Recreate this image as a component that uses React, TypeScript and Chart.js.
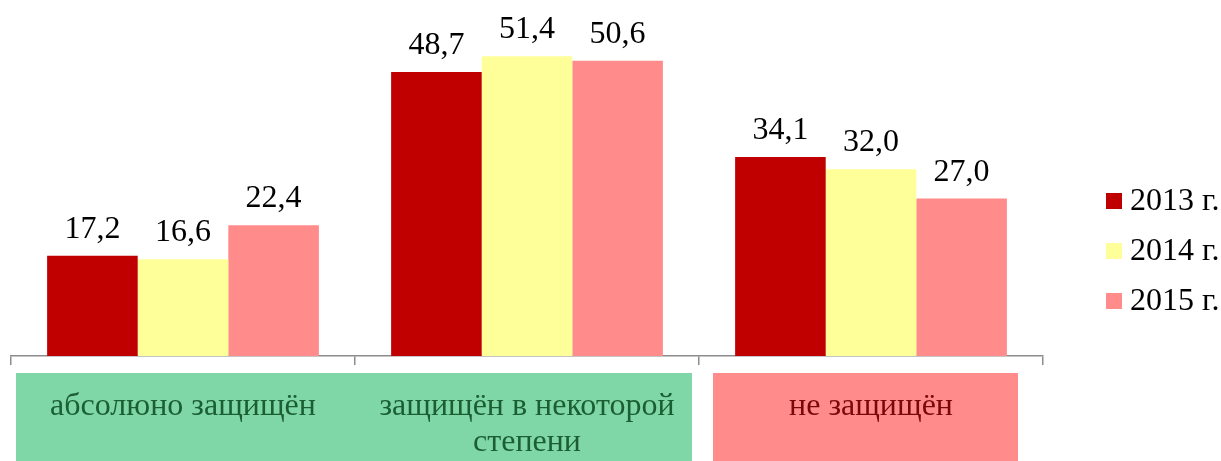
import React, { useEffect, useRef } from "react";
import { Chart, registerables } from "chart.js";

Chart.register(...registerables);

const categories: string[][] = [
  ["абсолюно защищён"],
  ["защищён в некоторой", "степени"],
  ["не защищён"],
];
const seriesNames = ["2013 г.", "2014 г.", "2015 г."];
const values2013 = [17.2, 48.7, 34.1];
const values2014 = [16.6, 51.4, 32.0];
const values2015 = [22.4, 50.6, 27.0];
const seriesColors = ["#C00000", "#FFFF99", "#FF8B8B"];

const FONT = "'Liberation Serif', Tinos, 'Times New Roman', 'DejaVu Serif', serif";

const labelsPlugin = {
  id: "valueLabels",
  afterDatasetsDraw(chart: any) {
    const ctx = chart.ctx;
    ctx.save();
    ctx.font = `32px ${FONT}`;
    ctx.fillStyle = "#000000";
    ctx.textAlign = "center";
    ctx.textBaseline = "alphabetic";
    chart.data.datasets.forEach((ds: any, di: number) => {
      const meta = chart.getDatasetMeta(di);
      meta.data.forEach((el: any, i: number) => {
        const v = ds.data[i] as number;
        ctx.fillText(v.toFixed(1).replace(".", ","), el.x, el.y - 18);
      });
    });
    ctx.restore();
  },
};

const decorPlugin = {
  id: "decor",
  afterDraw(chart: any) {
    const ctx = chart.ctx;
    const xs = chart.scales.x;
    const left = xs.left;
    const w = (xs.right - xs.left) / categories.length;
    const top = xs.top + 17;
    const bottom = chart.height;
    ctx.save();
    ctx.fillStyle = "#7FD7A7";
    ctx.fillRect(left + 5, top, 2 * w - 12, bottom - top);
    ctx.fillStyle = "#FF8B8B";
    ctx.fillRect(left + 2 * w + 14, top, w - 39, bottom - top);
    ctx.font = `32px ${FONT}`;
    ctx.textAlign = "center";
    ctx.textBaseline = "middle";
    categories.forEach((lines, i) => {
      const cx = xs.getPixelForValue(i);
      ctx.fillStyle = i < 2 ? "#1B5E34" : "#7A0808";
      lines.forEach((ln, li) => {
        ctx.fillText(ln, cx, top + 34 + li * 36);
      });
    });
    const lx = chart.chartArea.right + 63;
    const rowY = [201, 251, 301];
    ctx.textAlign = "left";
    seriesNames.forEach((name, i) => {
      ctx.fillStyle = seriesColors[i];
      ctx.fillRect(lx, rowY[i] - 8, 16, 16);
      ctx.fillStyle = "#000000";
      ctx.fillText(name, lx + 24, rowY[i] + 1);
    });
    ctx.restore();
  },
};

export default function App() {
  const ref = useRef<HTMLCanvasElement | null>(null);

  useEffect(() => {
    if (!ref.current) return;
    const chart = new Chart(ref.current, {
      type: "bar",
      data: {
        labels: categories.map((c) => c.join(" ")),
        datasets: [values2013, values2014, values2015].map((d, i) => ({
          label: seriesNames[i],
          data: d,
          backgroundColor: seriesColors[i],
          borderWidth: 0,
          categoryPercentage: 0.79,
          barPercentage: 1.0,
        })),
      },
      options: {
        animation: false,
        responsive: false,
        devicePixelRatio: 1,
        layout: { padding: { left: 11, right: 178, top: 6, bottom: 96 } },
        plugins: { legend: { display: false }, tooltip: { enabled: false } },
        scales: {
          x: {
            offset: true,
            ticks: { display: false },
            grid: {
              display: true,
              drawOnChartArea: false,
              drawTicks: true,
              tickLength: 9,
              color: "#8C8C8C",
              lineWidth: 1.5,
              offset: true,
            },
            border: { display: true, color: "#8C8C8C", width: 1.5 },
          },
          y: { display: false, min: 0, max: 60 },
        },
      },
      plugins: [labelsPlugin, decorPlugin],
    });
    return () => chart.destroy();
  }, []);

  return (
    <div style={{ position: "fixed", left: 0, top: 0, width: 1221, height: 461, background: "#fff" }}>
      <canvas ref={ref} width={1221} height={461} style={{ display: "block" }} />
    </div>
  );
}
